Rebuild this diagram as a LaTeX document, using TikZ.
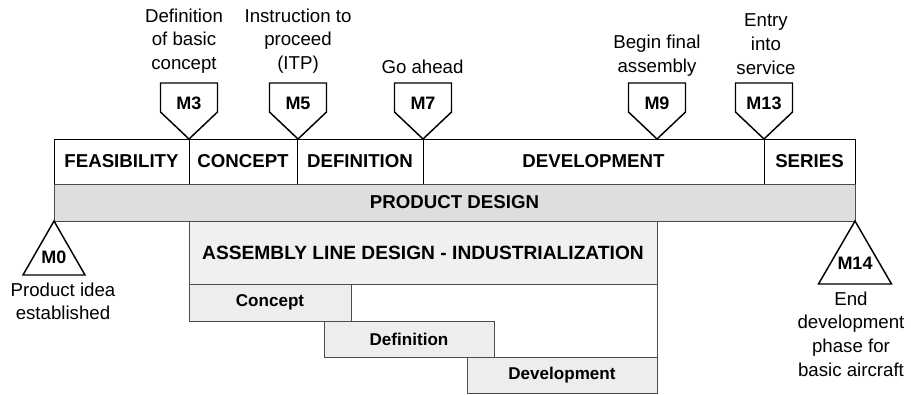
\documentclass[tikz,border=0pt]{standalone}
\usepackage{fontspec}
\setmainfont{Liberation Sans}
\tikzset{every picture/.style={line width=0.75pt}}
\tikzset{
  cellbox/.style={draw=black, fill=white},
  barbox/.style={draw=black!70, fill=black!13},
  asmbox/.style={draw=black!70, fill=black!6},
  subbox/.style={draw=black!70, fill=black!7},
  mstone/.style={draw=black, fill=white, line width=1.1pt, line join=miter},
  celltxt/.style={font=\fontsize{14}{17}\selectfont\bfseries, inner sep=0.75pt},
  subtxt/.style={font=\fontsize{12.8}{15}\selectfont\bfseries, inner sep=0.75pt},
  mtxt/.style={font=\fontsize{13.5}{16}\selectfont\bfseries, inner sep=0.75pt},
  notetxt/.style={font=\fontsize{14}{17.8}\selectfont, align=center, inner sep=0.75pt}
}
\begin{document}
\begin{tikzpicture}[x=0.75pt,y=0.75pt,yscale=-1,xscale=1]
		\useasboundingbox (0,0) rectangle (911,394);
		
		%Phases row
		\draw[cellbox] (54,139) rectangle (189,184);
		\draw[cellbox] (189,139) rectangle (297,184);
		\draw[cellbox] (297,139) rectangle (423,184);
		\draw[cellbox] (423,139) rectangle (764,184);
		\draw[cellbox] (764,139) rectangle (855,184);
		\node[celltxt] (feas) at (121.5,161.5) {FEASIBILITY};
		\node[celltxt] (conc) at (243,161.5) {CONCEPT};
		\node[celltxt] (defn) at (360,161.5) {DEFINITION};
		\node[celltxt] (devt) at (593.5,161.5) {DEVELOPMENT};
		\node[celltxt] (seri) at (809.5,161.5) {SERIES};
		
		%Product design bar
		\draw[barbox] (54,184) rectangle (855,221);
		\node[celltxt] (prod) at (454.5,202.5) {PRODUCT DESIGN};
		
		%Assembly line design
		\draw[asmbox] (189,221) rectangle (657,284);
		\node[celltxt, font=\fontsize{14.4}{17}\selectfont\bfseries] (asm) at (423,252.5) {ASSEMBLY LINE DESIGN - INDUSTRIALIZATION};
		\draw[subbox] (189,284) rectangle (351,321);
		\draw[subbox] (324,321) rectangle (494,357);
		\draw[subbox] (467,357) rectangle (657,393);
		\draw[black!70] (657,284) -- (657,357);
		\node[subtxt] (asmc) at (270,302.5) {Concept};
		\node[subtxt] (asmd) at (409,339) {Definition};
		\node[subtxt] (asmv) at (562,375) {Development};
		
		%Milestones above
		\draw[mstone] (160.5,83) -- (217.5,83) -- (217.5,112) -- (189,139) -- (160.5,112) -- cycle ;
		\draw[mstone] (269.5,83) -- (326.5,83) -- (326.5,112) -- (298,139) -- (269.5,112) -- cycle ;
		\draw[mstone] (394.5,83) -- (451.5,83) -- (451.5,112) -- (423,139) -- (394.5,112) -- cycle ;
		\draw[mstone] (628.5,83) -- (685.5,83) -- (685.5,112) -- (657,139) -- (628.5,112) -- cycle ;
		\draw[mstone] (735.5,83) -- (792.5,83) -- (792.5,112) -- (764,139) -- (735.5,112) -- cycle ;
		\node[mtxt] (m3) at (189,103) {M3};
		\node[mtxt] (m5) at (298,103) {M5};
		\node[mtxt] (m7) at (423,103) {M7};
		\node[mtxt] (m9) at (657,103) {M9};
		\node[mtxt] (m13) at (764,103) {M13};
		
		%Milestones below
		\draw[mstone] (54,221) -- (85,275) -- (23,275) -- cycle ;
		\draw[mstone] (855,221) -- (891.5,284) -- (818.5,284) -- cycle ;
		\node[mtxt] (m0) at (54,257) {M0};
		\node[mtxt] (m14) at (855,263) {M14};
		
		%Notes
		\node[notetxt, anchor=south] (n3) at (184,75) {Definition\\of basic\\concept};
		\node[notetxt, anchor=south] (n5) at (298,75) {Instruction to\\proceed\\(ITP)};
		\node[notetxt, anchor=south] (n7) at (422.5,75) {Go ahead};
		\node[notetxt, anchor=south] (n9) at (657,78) {Begin final\\assembly};
		\node[notetxt, anchor=south] (n13) at (766,76) {Entry\\into\\service};
		\node[notetxt, anchor=north] (n0) at (63,281) {Product idea\\established};
		\node[notetxt, anchor=north] (n14) at (851,290) {End\\development\\phase for\\basic aircraft};
		
\end{tikzpicture}
\end{document}
